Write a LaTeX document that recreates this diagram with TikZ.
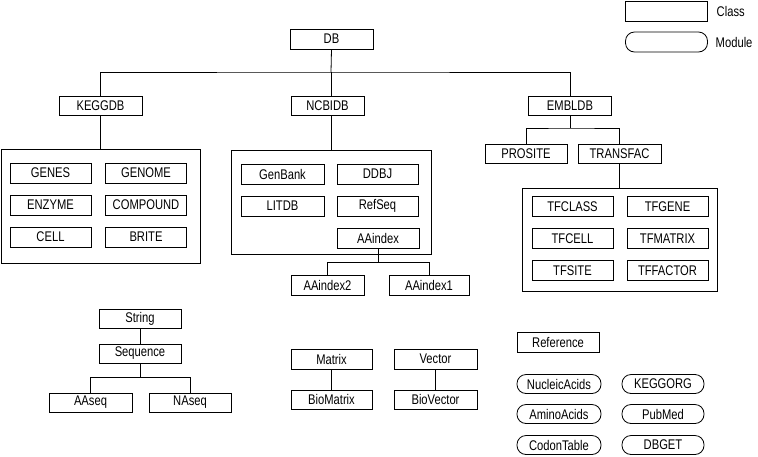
\documentclass[tikz,border=0pt]{standalone}
\usepackage{fontspec}
\setmainfont{Liberation Sans}[FakeStretch=0.8]
\begin{document}
\begin{tikzpicture}[x=1pt,y=-1pt,line width=0.8pt,
  cls/.style={draw,minimum width=82pt,minimum height=20pt,inner sep=0pt,font=\fontsize{14}{16}\selectfont},
  mdl/.style={cls,rounded corners=9pt},
  grp/.style={draw,inner sep=0pt}]
\useasboundingbox (0,0) rectangle (758,456);
% legend
\node [cls] (legcls) at (666.5,11) {};
\node [mdl] (legmdl) at (666.5,42) {};
\node [anchor=west,font=\fontsize{14}{16}\selectfont] (clslbl) at (713,11) {Class};
\node [anchor=west,font=\fontsize{14}{16}\selectfont] (mdllbl) at (712,42) {Module};
% top of the tree
\node [cls,minimum width=83pt] (db) at (331.5,39) {DB};
\node [cls,minimum width=83pt,minimum height=19pt] (keggdb) at (100.5,105.5) {KEGGDB};
\node [cls,minimum width=73pt,minimum height=19pt] (ncbidb) at (327.5,105.5) {NCBIDB};
\node [cls,minimum width=83pt,minimum height=19pt] (embldb) at (570,105.5) {EMBLDB};
\coordinate (dbfork) at (331,72);
\draw (db.south) -- (dbfork);
\draw (keggdb.north) |- (dbfork) -| (embldb.north);
\draw (dbfork) -- (dbfork |- ncbidb.north);
% KEGG
\node [grp,minimum width=199pt,minimum height=114pt] (keggbox) at (100.5,206) {};
\draw (keggdb.south) -- (keggbox.north);
\node [cls,minimum width=81pt] (genes) at (50.5,173) {GENES};
\node [cls,minimum width=81pt] (genome) at (146,173) {GENOME};
\node [cls,minimum width=81pt] (enzyme) at (50.5,205) {ENZYME};
\node [cls,minimum width=81pt] (compound) at (146,205) {COMPOUND};
\node [cls,minimum width=81pt] (cell) at (50.5,237) {CELL};
\node [cls,minimum width=81pt] (brite) at (146,237) {BRITE};
% NCBI
\node [grp,minimum width=200pt,minimum height=104pt] (ncbibox) at (331,202) {};
\draw (ncbibox.north) -- (ncbibox.north |- ncbidb.south);
\node [cls,minimum width=83pt] (genbank) at (282.5,174) {GenBank};
\node [cls,minimum width=81pt] (ddbj) at (377.5,174) {DDBJ};
\node [cls,minimum width=83pt] (litdb) at (282.5,206) {LITDB};
\node [cls,minimum width=81pt] (refseq) at (377.5,206) {RefSeq};
\node [cls] (aaindex) at (378,238) {AAindex};
\node [cls,minimum width=73pt] (aaindex2) at (327.5,285) {AAindex2};
\node [cls,minimum width=80pt] (aaindex1) at (429,285) {AAindex1};
\draw (aaindex.south) -- ++(0,14) coordinate (aafork);
\draw (aaindex2.north) |- (aafork) -| (aaindex1.north);
% EMBL
\node [cls,minimum height=19pt] (prosite) at (526,153.5) {PROSITE};
\node [cls,minimum width=83pt,minimum height=19pt] (transfac) at (619.5,153.5) {TRANSFAC};
\coordinate (emblfork) at (570,128);
\draw (embldb.south) -- (emblfork);
\draw (prosite.north) |- (emblfork) -| (transfac.north);
\node [grp,minimum width=195pt,minimum height=103pt] (tfbox) at (619.5,239.5) {};
\draw (transfac.south) -- (tfbox.north);
\node [cls,minimum width=81pt] (tfclass) at (572.5,206.5) {TFCLASS};
\node [cls,minimum width=81pt] (tfgene) at (667.5,206.5) {TFGENE};
\node [cls,minimum width=81pt] (tfcell) at (572.5,238.5) {TFCELL};
\node [cls,minimum width=81pt] (tfmatrix) at (667.5,238.5) {TFMATRIX};
\node [cls,minimum width=81pt] (tfsite) at (572.5,270.5) {TFSITE};
\node [cls,minimum width=81pt] (tffactor) at (667.5,270.5) {TFFACTOR};
% sequences
\node [cls,minimum height=19pt] (string) at (140,318.5) {String};
\node [cls,minimum height=19pt] (sequence) at (140,353.5) {Sequence};
\node [cls,minimum width=83pt,minimum height=19pt] (aaseq) at (90.5,402.5) {AAseq};
\node [cls,minimum height=19pt] (naseq) at (190,402.5) {NAseq};
\draw (string) -- (sequence);
\draw (sequence.south) -- ++(0,14) coordinate (seqfork);
\draw (aaseq.north) |- (seqfork) -| (naseq.north);
% matrix, vector
\node [cls,minimum width=81pt] (matrix) at (331.5,359) {Matrix};
\node [cls,minimum width=81pt,minimum height=19pt] (biomatrix) at (331.5,399.5) {BioMatrix};
\node [cls,minimum width=83pt] (vector) at (435.5,359) {Vector};
\node [cls,minimum width=83pt,minimum height=19pt] (biovector) at (435.5,399.5) {BioVector};
\draw (matrix) -- (biomatrix);
\draw (vector) -- (biovector);
% reference and modules
\node [cls] (reference) at (558,342) {Reference};
\node [mdl,minimum width=84pt,minimum height=19pt] (nucleic) at (559,384) {NucleicAcids};
\node [mdl,minimum width=84pt,minimum height=19pt] (amino) at (559,414) {AminoAcids};
\node [mdl,minimum width=84pt,minimum height=19pt] (codon) at (559,445) {CodonTable};
\node [mdl,minimum height=19pt] (keggorg) at (663,384) {KEGGORG};
\node [mdl,minimum height=19pt] (pubmed) at (663,414) {PubMed};
\node [mdl,minimum height=19pt] (dbget) at (663,445) {DBGET};

\end{tikzpicture}
\end{document}
